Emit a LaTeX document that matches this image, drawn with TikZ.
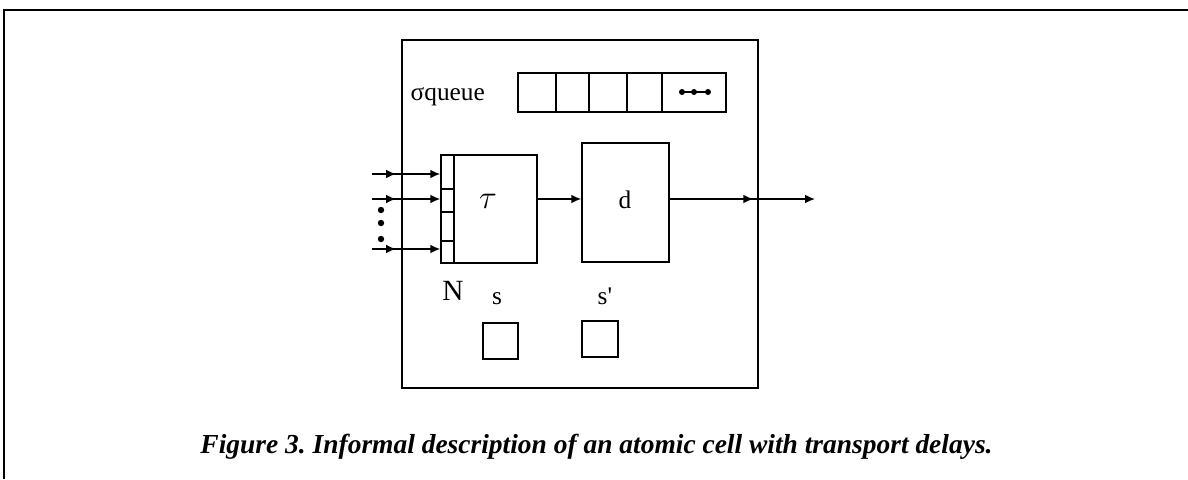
\documentclass[tikz,border=0pt]{standalone}
\usepackage{fontspec}
\setmainfont{Liberation Serif}
\usetikzlibrary{arrows.meta}
\frenchspacing
\begin{document}
\begin{tikzpicture}[x=0.75pt, y=-0.75pt, line width=1.1pt,
    >={Latex[length=7.5pt,width=6.5pt]},
    caja/.style={draw, rectangle, inner sep=0pt, line width=1.1pt},
    etiq/.style={font=\fontsize{19}{22}\selectfont, inner sep=0pt}]
    \useasboundingbox (0,0) rectangle (1188,479);

    % Marco exterior (abierto a la derecha y abajo)
    \draw[line width=2pt] (4,479) -- (4,10) -- (1188,10);

    % Celda atomica
    \node[caja, minimum width=267pt, minimum height=261pt] (celda) at (580,214) {};

    % Cola sigma
    \node[etiq, anchor=base west] (lblcola) at (410,100) {σqueue};
    \foreach \a/\b [count=\i] in {518/556,556/589,589/627,627/662,662/726}
        \node[caja, minimum width={(\b-\a)*0.75pt}, minimum height=29.25pt]
            (q\i) at ({(\a+\b)/2},92.5) {};
    \draw[line width=0.8pt] (682,92) -- (708,92);
    \foreach \xv in {682,694,708}
        \fill (\xv,92) circle (3);

    % Bloque tau con sus puertos de entrada
    \node[caja, minimum width=72pt, minimum height=81pt] (tau) at (489,209) {};
    \node[etiq, font=\fontsize{23}{26}\selectfont] (lbltau) at (488,201) {$\tau$};
    \foreach \a/\b [count=\i] in {155/189,189/212,212/241,241/263}
        \node[caja, minimum width=9.75pt, minimum height={(\b-\a)*0.75pt}]
            (p\i) at (447.5,{(\a+\b)/2}) {};

    % Bloque d
    \node[caja, minimum width=65.25pt, minimum height=89.25pt] (d) at (625.5,202.5) {};
    \node[etiq] (lbld) at (625,200) {d};

    % Entradas
    \foreach \yv/\p in {174/1,199/2,249/4} {
        \coordinate (in\p) at (372,\yv);
        \draw[->] (in\p) -- ++(24,0);
        \draw[->] (in\p) -- (in\p -| p\p.west);
    }
    \foreach \yv in {210,223,239}
        \fill (381,\yv) circle (3.2);

    % Conexion tau -> d y salida
    \coordinate (nivel) at (0,199);
    \coordinate (sal) at (815,199);
    \draw[->] (tau.east |- nivel) -- (d.west |- nivel);
    \draw[->] (d.east |- nivel) -- ([xshift=-4pt]celda.east |- nivel);
    \draw[->] (d.east |- nivel) -- (sal);

    % Estados s y s'
    \node[etiq, font=\fontsize{22}{25}\selectfont, anchor=base] (lblN) at (453,300) {N};
    \node[etiq, anchor=base] (lbls) at (497,304) {s};
    \node[etiq, anchor=base west] (lblsp) at (597,304) {s\textquotesingle};
    \node[caja, minimum width=26.25pt, minimum height=27pt] (cs) at (500.5,341) {};
    \node[caja, minimum width=27pt, minimum height=27pt] (csp) at (600,339) {};

    % Pie de figura
    \node[font=\fontsize{20.6}{24}\selectfont\bfseries\itshape, anchor=base, inner sep=0pt]
        (titulo) at (596.5,453)
        {Figure 3. Informal description of an atomic cell with transport delays.};
\end{tikzpicture}
\end{document}
